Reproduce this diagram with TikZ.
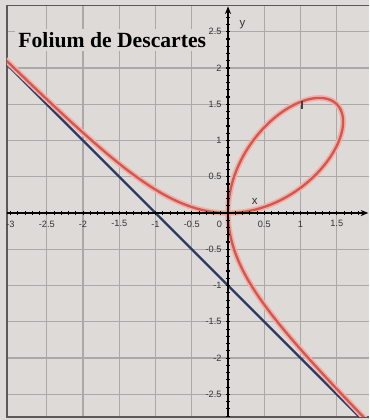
\documentclass[tikz,border=0pt]{standalone}
\usepackage{fontspec}
\setmainfont{Liberation Serif}
\setsansfont{Liberation Sans}
\usetikzlibrary{arrows.meta}

\definecolor{paper}{HTML}{DDDAD7}
\definecolor{gridgray}{HTML}{ABA9A8}
\definecolor{framegray}{HTML}{5A5858}
\definecolor{foliumred}{HTML}{D6554F}
\definecolor{foliumglow}{HTML}{EDB1AA}
\definecolor{asymblue}{HTML}{2E3865}

\tikzset{
    ticklabel/.style={font=\sffamily\fontsize{3.6}{4}\selectfont, inner sep=0.4pt, text=black!80},
    axis/.style={line width=0.8pt, -{Stealth[length=3pt,width=2.4pt]}},
    folium/.style={foliumred, line width=0.9pt},
    glow/.style={foliumglow, line width=2.2pt},
}

\begin{document}
\begin{tikzpicture}[scale=1]
    \useasboundingbox[fill=paper] (-3.145, -2.855) rectangle (1.945, 2.938);

    \foreach \x in {-2.5, -2, -1.5, -1, -0.5, 0.5, 1, 1.5} {
        \draw[gridgray, line width=0.5pt] (\x, -2.81) -- (\x, 2.86);
    }
    \foreach \y in {-2.5, -2, -1.5, -1, -0.5, 0.5, 1, 1.5, 2, 2.5} {
        \draw[gridgray, line width=0.5pt] (-3.05, \y) -- (1.945, \y);
    }

    \draw[framegray, line width=0.6pt] (1.945, 2.86) -- (-3.05, 2.86) -- (-3.05, -2.81) -- (1.945, -2.81);

    \node[anchor=base west, fill=paper, inner sep=1.2pt, font=\bfseries\fontsize{8.5}{10}\selectfont] (title) at (-2.94, 2.285) {Folium de Descartes};

    \coordinate (asymtop) at (-3.05, 2.05);
    \coordinate (asymbot) at (1.81, -2.81);
    \draw[asymblue, line width=0.9pt] (asymtop) -- (asymbot);

    \begin{scope}
        \clip (-3.05, -2.81) rectangle (1.945, 2.86);
        \draw[glow] plot[domain=-0.72:1, samples=160, variable=\t] ({3*\t/(1+\t*\t*\t)}, {3*\t*\t/(1+\t*\t*\t)})
            -- plot[domain=1:-0.72, samples=160, variable=\t] ({3*\t*\t/(1+\t*\t*\t)}, {3*\t/(1+\t*\t*\t)});
        \draw[folium] plot[domain=-0.72:1, samples=160, variable=\t] ({3*\t/(1+\t*\t*\t)}, {3*\t*\t/(1+\t*\t*\t)})
            -- plot[domain=1:-0.72, samples=160, variable=\t] ({3*\t*\t/(1+\t*\t*\t)}, {3*\t/(1+\t*\t*\t)});
    \end{scope}

    \draw[axis] (-3.05, 0) -- (1.935, 0);
    \draw[axis] (0, -2.81) -- (0, 2.85);

    \foreach \i in {-30, ..., 18} {
        \draw[line width=0.4pt] (\i/10, 0.03) -- (\i/10, -0.03);
    }
    \foreach \i in {-28, ..., 27} {
        \draw[line width=0.4pt] (-0.03, \i/10) -- (0.03, \i/10);
    }

    \foreach \x [count=\k] in {-3, -2.5, -2, -1.5, -1, -0.5, 0.5, 1, 1.5} {
        \node[ticklabel] (xlab\k) at (\x, -0.15) {\x};
    }
    \node[ticklabel] (xlab0) at (-0.12, -0.15) {0};

    \foreach \y [count=\k] in {-2.5, -2, -1.5, -1, -0.5, 0.5, 1, 1.5, 2, 2.5} {
        \node[ticklabel, anchor=east] (ylab\k) at (-0.07, \y) {\y};
    }

    \node[ticklabel, font=\sffamily\fontsize{4.5}{5}\selectfont] (ylabel) at (0.2, 2.6) {y};
    \node[ticklabel, font=\sffamily\fontsize{4.5}{5}\selectfont] (xlabel) at (0.37, 0.16) {x};
    \draw[black!75, line width=0.5pt] (1.02, 1.44) -- (1.02, 1.55);
\end{tikzpicture}
\end{document}
